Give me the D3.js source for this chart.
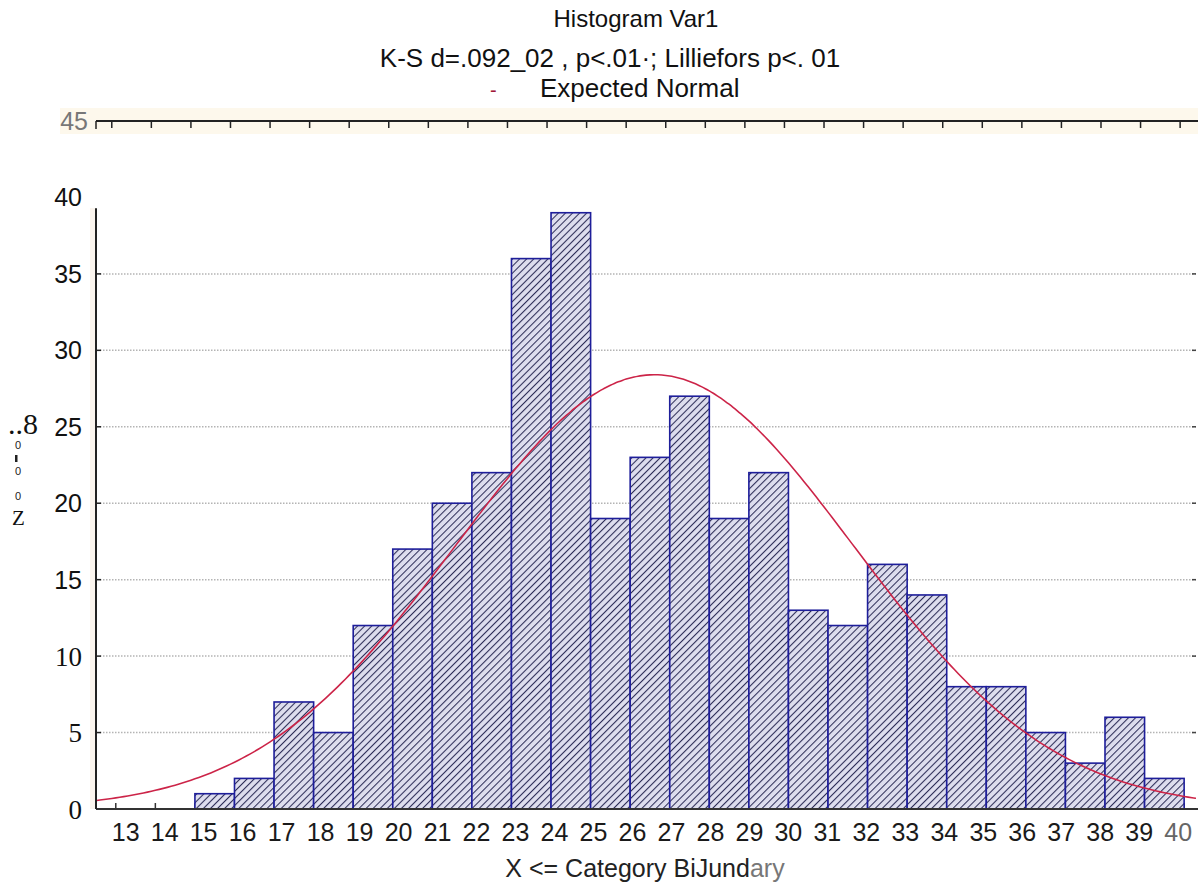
<!DOCTYPE html>
<html>
<head>
<meta charset="utf-8">
<script src="https://cdn.jsdelivr.net/npm/d3@7/dist/d3.min.js"></script>
<style>
  body { margin: 0; background: #fff; }
  svg { display: block; }
</style>
</head>
<body>
<div id="chart"></div>
<script>
// bin categories (upper boundary of each class) and their counts
const categories = [15, 16, 17, 18, 19, 20, 21, 22, 23, 24, 25, 26, 27, 28, 29, 30, 31, 32, 33, 34, 35, 36, 37, 38, 39];
const counts = [1, 2, 7, 5, 12, 17, 20, 22, 36, 39, 19, 23, 27, 19, 22, 13, 12, 16, 14, 8, 8, 5, 3, 6, 2];
const xTickLabels = ["13", "14", "15", "16", "17", "18", "19", "20", "21", "22", "23", "24", "25", "26",
  "27", "28", "29", "30", "31", "32", "33", "34", "35", "36", "37", "38", "39", "40"];
const yTicks = [0, 5, 10, 15, 20, 25, 30, 35, 40, 45];
const gridValues = [5, 10, 15, 20, 25, 30, 35];
const titleText = "Histogram Var1";
const statsText = "K-S d=.092_02 , p<.01\u00b7; Lilliefors p<. 01";
const legendText = "Expected Normal";
const xTitle = "X <= Category BiJund";
const xTitleTail = "ary";

const width = 1198, height = 890;
const sans = "Liberation Sans, Arial, sans-serif";
const serif = "Liberation Serif, Times New Roman, serif";

const svg = d3.select("#chart").append("svg")
  .attr("width", width)
  .attr("height", height);

const x = d3.scaleLinear().domain([12, 39.8]).range([96, 1196]);
const y = d3.scaleLinear().domain([0, 45]).range([809, 121]);
const labelX = d3.scalePoint().domain(xTickLabels).range([x(12.75), x(39.35)]);

// hatch pattern for the bars
const defs = svg.append("defs");
const pat = defs.append("pattern")
  .attr("id", "hatch")
  .attr("patternUnits", "userSpaceOnUse")
  .attr("width", 5).attr("height", 5)
  .attr("patternTransform", "rotate(45)");
pat.append("rect").attr("width", 5).attr("height", 5).attr("fill", "#dedeee");
pat.append("line").attr("x1", 0).attr("y1", 0).attr("x2", 0).attr("y2", 5)
  .attr("stroke", "#2e2e58").attr("stroke-width", 2.1);

defs.append("clipPath").attr("id", "plotclip")
  .append("rect")
  .attr("x", x(12)).attr("y", y(45))
  .attr("width", x(39.8) - x(12)).attr("height", y(0) - y(45));

// cream band behind the top frame
svg.append("rect")
  .attr("x", 60).attr("y", y(45) - 13)
  .attr("width", width - 60).attr("height", 26)
  .attr("fill", "#fdf8ec");
svg.append("rect")
  .attr("x", x(12) - 6).attr("y", y(39.3))
  .attr("width", 6).attr("height", y(0) - y(39.3))
  .attr("fill", "#fbf5ee");

// titles
svg.append("text")
  .attr("x", 636).attr("y", 27)
  .attr("text-anchor", "middle")
  .style("font-family", sans)
  .style("font-size", "24px")
  .attr("fill", "#111")
  .text(titleText);
svg.append("text")
  .attr("x", 610).attr("y", 67)
  .attr("text-anchor", "middle")
  .style("font-family", sans)
  .style("font-size", "26px")
  .attr("fill", "#111")
  .text(statsText);
svg.append("text")
  .attr("x", 490).attr("y", 97)
  .style("font-family", sans)
  .style("font-size", "20px")
  .attr("fill", "#a01838")
  .text("-");
svg.append("text")
  .attr("x", 540).attr("y", 97)
  .style("font-family", sans)
  .style("font-size", "26px")
  .attr("fill", "#111")
  .text(legendText);

// gridlines
svg.append("g").selectAll("line")
  .data(gridValues)
  .enter().append("line")
  .attr("x1", x(12) + 4).attr("x2", x(39.8))
  .attr("y1", d => y(d)).attr("y2", d => y(d))
  .attr("stroke", "#b4b4b4")
  .attr("stroke-width", 1.5)
  .attr("stroke-dasharray", "1.5,1.5");

// right edge tick marks
svg.append("g").selectAll("line")
  .data(gridValues)
  .enter().append("line")
  .attr("x1", x(39.8) - 4).attr("x2", x(39.8))
  .attr("y1", d => y(d)).attr("y2", d => y(d))
  .attr("stroke", "#444").attr("stroke-width", 1.5);

// bottom ticks at class boundaries
const edges = d3.range(12.5, 39.6, 1);
svg.append("g").selectAll("line")
  .data(edges)
  .enter().append("line")
  .attr("x1", d => x(d)).attr("x2", d => x(d))
  .attr("y1", y(0)).attr("y2", y(0) - 6)
  .attr("stroke", "#333").attr("stroke-width", 1.5);

// bars
svg.append("g").selectAll("rect")
  .data(categories)
  .enter().append("rect")
  .attr("x", d => x(d - 0.5))
  .attr("y", (d, i) => y(counts[i]))
  .attr("width", d => x(d + 0.5) - x(d - 0.5))
  .attr("height", (d, i) => y(0) - y(counts[i]))
  .attr("fill", "url(#hatch)")
  .attr("stroke", "#1e1e9a")
  .attr("stroke-width", 1.6);

// expected normal curve from the binned data
const n = d3.sum(counts);
const mean = d3.sum(categories, (d, i) => d * counts[i]) / n;
const sd = Math.sqrt(d3.sum(categories, (d, i) => counts[i] * (d - mean) ** 2) / n);
const normal = v => n / (sd * Math.sqrt(2 * Math.PI)) * Math.exp(-((v - mean) ** 2) / (2 * sd * sd));
const curveXs = d3.range(12, 39.85, 0.1);
svg.append("path")
  .datum(curveXs)
  .attr("clip-path", "url(#plotclip)")
  .attr("fill", "none")
  .attr("stroke", "#cc2448")
  .attr("stroke-width", 1.6)
  .attr("d", d3.line().x(d => x(d)).y(d => y(normal(d))).curve(d3.curveBasis));

// axes lines
svg.append("line")
  .attr("x1", x(12)).attr("x2", width)
  .attr("y1", y(0)).attr("y2", y(0))
  .attr("stroke", "#333").attr("stroke-width", 2);
svg.append("line")
  .attr("x1", x(12)).attr("x2", x(12))
  .attr("y1", y(0)).attr("y2", y(39.3))
  .attr("stroke", "#222").attr("stroke-width", 2);
svg.append("g").selectAll("line")
  .data(gridValues)
  .enter().append("line")
  .attr("x1", x(12)).attr("x2", x(12) + 5)
  .attr("y1", d => y(d)).attr("y2", d => y(d))
  .attr("stroke", "#222").attr("stroke-width", 1.5);

// top frame with ticks
svg.append("line")
  .attr("x1", x(12)).attr("x2", width)
  .attr("y1", y(45)).attr("y2", y(45))
  .attr("stroke", "#222").attr("stroke-width", 2);
svg.append("g").selectAll("line")
  .data(edges)
  .enter().append("line")
  .attr("x1", d => x(d) - 4).attr("x2", d => x(d) - 4)
  .attr("y1", y(45)).attr("y2", y(45) + 7)
  .attr("stroke", "#222").attr("stroke-width", 1.5);
svg.append("line")
  .attr("x1", x(12)).attr("x2", x(12))
  .attr("y1", y(45)).attr("y2", y(45) + 8)
  .attr("stroke", "#222").attr("stroke-width", 1.5);

// y tick labels
svg.append("g").selectAll("text")
  .data(yTicks)
  .enter().append("text")
  .attr("x", d => d === 45 ? 88 : 82)
  .attr("y", d => y(d))
  .attr("dy", "0.36em")
  .attr("text-anchor", "end")
  .style("font-family", d => d <= 10 ? serif : sans)
  .style("font-size", d => d <= 10 ? "27px" : "25px")
  .attr("fill", d => d === 45 ? "#777" : "#111")
  .text(d => d);

// x tick labels
svg.append("g").selectAll("text")
  .data(xTickLabels)
  .enter().append("text")
  .attr("x", d => labelX(d))
  .attr("y", 841)
  .attr("text-anchor", "middle")
  .style("font-family", sans)
  .style("font-size", "25px")
  .attr("fill", d => d === "40" ? "#666" : "#1a1a1a")
  .text(d => d);

// x axis title
const xt = svg.append("text")
  .attr("x", 645).attr("y", 877)
  .attr("text-anchor", "middle")
  .style("font-family", sans)
  .style("font-size", "25px")
  .attr("fill", "#222");
xt.append("tspan").text(xTitle);
xt.append("tspan").attr("fill", "#777").text(xTitleTail);

// garbled y axis title
svg.append("text").attr("x", 8).attr("y", 434)
  .style("font-family", serif).style("font-size", "30px").attr("fill", "#111").text("..8");
svg.append("text").attr("x", 15).attr("y", 449)
  .style("font-family", sans).style("font-size", "11px").attr("fill", "#222").text("0");
svg.append("rect").attr("x", 15).attr("y", 455).attr("width", 2.5).attr("height", 7).attr("fill", "#222");
svg.append("text").attr("x", 15).attr("y", 475)
  .style("font-family", sans).style("font-size", "11px").attr("fill", "#222").text("0");
svg.append("text").attr("x", 15).attr("y", 500)
  .style("font-family", sans).style("font-size", "11px").attr("fill", "#222").text("0");
svg.append("text").attr("x", 12).attr("y", 525)
  .style("font-family", serif).style("font-size", "21px").attr("fill", "#111").text("Z");
</script>
</body>
</html>
